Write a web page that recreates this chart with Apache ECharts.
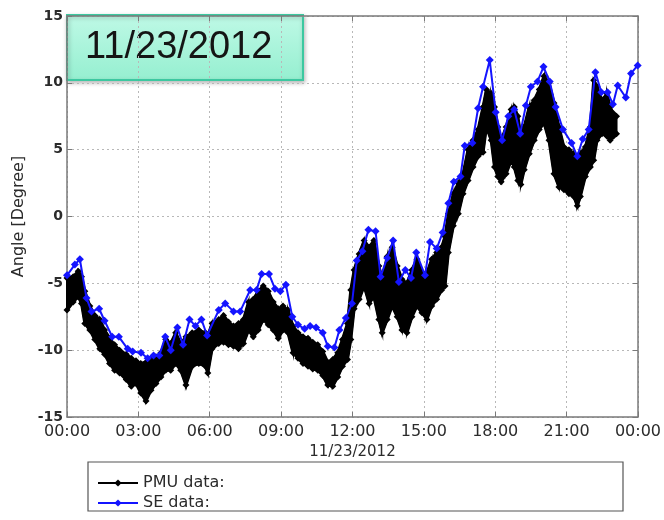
<!DOCTYPE html>
<html>
<head>
<meta charset="utf-8">
<script src="https://cdn.jsdelivr.net/npm/echarts@6/dist/echarts.min.js"></script>
<style>
  html, body { margin: 0; padding: 0; background: #ffffff; }
  #chart { width: 664px; height: 520px; }
</style>
</head>
<body>
<div id="chart"></div>
<script>
// Tick labels for the 24 h time axis (3 h steps)
const hourTicks = ['00:00', '03:00', '06:00', '09:00', '12:00', '15:00', '18:00', '21:00', '00:00'];
const dayLabel = '11/23/2012';

// State-estimator angle samples: time in hours, angle in degrees
const seHours = [0.00, 0.33, 0.54, 0.82, 1.03, 1.35, 1.58, 1.90, 2.18, 2.55, 2.76, 3.11, 3.39, 3.64, 3.88,
  4.13, 4.36, 4.64, 4.88, 5.15, 5.40, 5.65, 5.89, 6.38, 6.65, 7.00, 7.28, 7.70, 7.97, 8.18, 8.49, 8.74,
  8.97, 9.20, 9.47, 9.71, 9.99, 10.22, 10.47, 10.75, 10.96, 11.24, 11.45, 11.72, 11.98, 12.18, 12.42,
  12.67, 12.97, 13.18, 13.46, 13.71, 13.95, 14.22, 14.46, 14.68, 15.05, 15.26, 15.54, 15.79, 16.03,
  16.26, 16.54, 16.72, 17.04, 17.28, 17.49, 17.77, 18.02, 18.29, 18.55, 18.80, 19.05, 19.29, 19.50,
  19.78, 20.03, 20.29, 20.54, 20.85, 21.21, 21.45, 21.68, 21.93, 22.21, 22.46, 22.72, 22.95, 23.15,
  23.49, 23.71, 23.99];
const seAngles = [-4.4, -3.6, -3.2, -6.1, -7.1, -6.9, -7.8, -9.0, -9.0, -9.9, -10.1, -10.2, -10.6, -10.4, -10.4,
  -9.0, -10.0, -8.3, -9.6, -7.7, -8.2, -7.7, -8.9, -7.0, -6.5, -7.1, -7.1, -5.5, -5.5, -4.3, -4.3, -5.4,
  -5.6, -5.1, -7.5, -8.1, -8.4, -8.2, -8.3, -8.7, -9.7, -9.8, -8.5, -7.6, -6.5, -3.3, -2.6,
  -1.0, -1.1, -4.5, -3.1, -1.8, -4.9, -4.0, -4.6, -2.7, -4.4, -1.9, -2.4, -1.2, 1.0,
  2.6, 3.0, 5.3, 5.5, 8.1, 9.7, 11.7, 7.8, 5.7, 7.5, 8.0, 6.2, 8.3, 9.7,
  10.1, 11.2, 10.1, 8.2, 6.5, 5.5, 4.5, 5.8, 6.5, 10.8, 9.3, 9.3, 8.4, 9.8,
  8.9, 10.7, 11.3];

// PMU measurements: upper and lower extent of the dense sample band per time step
const pmuHours = [0.00, 0.26, 0.47, 0.61, 0.75, 0.96, 1.17, 1.38, 1.58, 1.79, 2.00, 2.21, 2.49, 2.70, 2.90,
  3.10, 3.32, 3.53, 3.74, 3.95, 4.15, 4.36, 4.57, 4.78, 5.00, 5.26, 5.54, 5.82, 5.92, 6.10, 6.38, 6.58,
  6.79, 7.00, 7.21, 7.42, 7.63, 7.83, 8.04, 8.25, 8.46, 8.67, 8.88, 9.08, 9.29, 9.50, 9.71, 9.92, 10.13,
  10.33, 10.54, 10.75, 10.96, 11.17, 11.38, 11.58, 11.79, 11.93, 12.07, 12.28, 12.49, 12.70, 12.90,
  13.11, 13.25, 13.46, 13.67, 13.88, 14.08, 14.29, 14.50, 14.71, 14.92, 15.13, 15.33, 15.54, 15.75,
  15.89, 16.03, 16.24, 16.45, 16.65, 16.86, 17.07, 17.28, 17.49, 17.63, 17.83, 17.97, 18.11, 18.25,
  18.46, 18.67, 18.80, 18.95, 19.08, 19.22, 19.43, 19.64, 19.85, 20.05, 20.26, 20.47, 20.68, 20.89,
  21.10, 21.30, 21.45, 21.58, 21.79, 22.00, 22.14, 22.28, 22.49, 22.70, 22.83, 22.97, 23.10];
const pmuHigh = [-4.6, -4.5, -4.1, -4.5, -5.6, -6.7, -7.4, -7.7, -8.5, -9.1, -9.6, -10.0, -10.3, -10.6, -10.8,
  -11.0, -10.9, -10.6, -10.5, -10.2, -9.2, -9.5, -8.7, -9.5, -9.0, -8.7, -8.5, -8.7, -8.9, -8.0, -7.7, -7.4,
  -7.9, -8.2, -8.0, -7.7, -6.4, -6.2, -5.6, -5.2, -5.6, -6.4, -6.9, -6.7, -7.0, -8.2, -8.7, -9.0, -9.1,
  -9.4, -9.6, -10.1, -10.9, -10.7, -10.2, -9.2, -8.0, -5.5, -4.0, -2.8, -1.8, -2.3, -1.8,
  -3.7, -4.7, -3.0, -2.3, -3.7, -4.7, -5.0, -4.0, -3.2, -4.2, -4.2, -3.2, -2.7, -2.3,
  -1.5, 0.2, 1.7, 2.5, 3.2, 5.0, 5.7, 6.5, 8.2, 9.5, 9.2, 8.2, 6.7, 5.7,
  6.7, 8.0, 8.2, 7.5, 6.0, 6.7, 8.2, 8.7, 9.5, 10.5, 10.0, 8.5, 6.7, 5.2,
  5.0, 4.7, 4.0, 4.7, 5.2, 6.7, 10.2, 9.7, 8.7, 9.2, 8.2, 7.7, 7.5];
const pmuLow = [-7.0, -6.4, -6.0, -6.5, -8.0, -8.5, -9.2, -9.9, -10.3, -11.0, -11.5, -11.7, -12.2, -12.7, -12.5,
  -13.2, -13.8, -13.0, -12.5, -12.0, -11.5, -11.5, -11.0, -11.5, -12.6, -11.2, -11.0, -11.2, -11.7, -9.9, -9.5, -9.4,
  -9.6, -9.7, -9.9, -9.5, -8.5, -9.0, -8.5, -7.7, -8.1, -8.5, -9.1, -8.5, -8.7, -10.2, -10.6, -11.0, -11.2,
  -11.4, -11.5, -11.9, -12.6, -12.7, -12.0, -11.2, -10.7, -9.2, -6.9, -6.2, -5.2, -6.5, -6.0,
  -7.7, -8.7, -7.7, -6.7, -7.5, -8.5, -8.7, -7.5, -6.7, -7.2, -7.7, -6.7, -6.2, -5.5,
  -5.2, -2.7, -0.7, 0.2, 1.7, 2.7, 3.7, 4.5, 4.8, 6.7, 5.7, 3.7, 3.0, 2.6,
  3.2, 4.2, 3.7, 2.7, 2.4, 3.5, 4.7, 5.7, 6.5, 7.0, 5.7, 3.2, 2.2, 2.0,
  1.7, 1.5, 0.8, 1.5, 3.0, 3.7, 4.2, 5.7, 6.2, 6.0, 5.7, 6.0, 6.2];

const FONT = 'DejaVu Sans';
const TEXT = '#2b2b2b';
const AXIS = '#7a7a7a';
const GRID = '#b8b8b8';

const chart = echarts.init(document.getElementById('chart'), null, { renderer: 'canvas' });

const sePoints = seHours.map((h, i) => [h, seAngles[i]]);
const pmuTop = pmuHours.map((h, i) => [h, pmuHigh[i]]);
const pmuBottom = pmuHours.map((h, i) => [h, pmuLow[i]]);
const pmuBand = pmuHours.map((h, i) => [h, pmuLow[i], pmuHigh[i]]);

// Filled band between the lower and upper PMU extents
function renderBand(params, api) {
  const i = params.dataIndex;
  if (i >= pmuHours.length - 1) return null;
  const pts = [
    api.coord([pmuHours[i], pmuLow[i]]),
    api.coord([pmuHours[i], pmuHigh[i]]),
    api.coord([pmuHours[i + 1], pmuHigh[i + 1]]),
    api.coord([pmuHours[i + 1], pmuLow[i + 1]])
  ];
  return {
    type: 'polygon',
    shape: { points: pts },
    style: { fill: '#000000', stroke: '#000000', lineWidth: 2 }
  };
}

const pmuEdge = {
  type: 'line',
  name: 'PMU data:',
  symbol: 'diamond',
  symbolSize: 7,
  showAllSymbol: true,
  lineStyle: { color: '#000000', width: 3 },
  itemStyle: { color: '#000000' },
  z: 3,
  animation: false
};

const option = {
  animation: false,
  backgroundColor: '#ffffff',
  grid: { left: 67, right: 21, top: 16, bottom: 103, containLabel: false },
  xAxis: [{
    type: 'value',
    min: 0, max: 24, interval: 3,
    name: dayLabel,
    nameLocation: 'middle',
    nameGap: 28,
    nameTextStyle: { fontFamily: FONT, fontSize: 15, color: TEXT },
    axisLine: { show: true, onZero: false, lineStyle: { color: AXIS, width: 1.5 } },
    axisTick: { show: true, inside: true, length: 5, lineStyle: { color: AXIS } },
    axisLabel: {
      fontFamily: FONT, fontSize: 16, color: TEXT, margin: 7,
      formatter: v => hourTicks[Math.round(v / 3)]
    },
    splitLine: { show: true, lineStyle: { color: GRID, type: [2, 3], width: 1 } }
  }, {
    type: 'value', position: 'top',
    min: 0, max: 24, interval: 3,
    axisLine: { show: true, onZero: false, lineStyle: { color: AXIS, width: 1.5 } },
    axisTick: { show: true, inside: true, length: 5, lineStyle: { color: AXIS } },
    axisLabel: { show: false },
    splitLine: { show: false }
  }],
  yAxis: [{
    type: 'value',
    min: -15, max: 15, interval: 5,
    name: 'Angle [Degree]',
    nameLocation: 'middle',
    nameGap: 30,
    nameTextStyle: { fontFamily: FONT, fontSize: 16, color: TEXT },
    axisLine: { show: true, onZero: false, lineStyle: { color: AXIS, width: 1.5 } },
    axisTick: { show: true, inside: true, length: 5, lineStyle: { color: AXIS } },
    axisLabel: { fontFamily: FONT, fontSize: 14, fontWeight: 'bold', color: TEXT, margin: 4 },
    splitLine: { show: true, lineStyle: { color: GRID, type: [2, 3], width: 1 } }
  }, {
    type: 'value', position: 'right',
    min: -15, max: 15, interval: 5,
    axisLine: { show: true, onZero: false, lineStyle: { color: AXIS, width: 1.5 } },
    axisTick: { show: true, inside: true, length: 5, lineStyle: { color: AXIS } },
    axisLabel: { show: false },
    splitLine: { show: false }
  }],
  legend: {
    data: ['PMU data:', 'SE data:'],
    orient: 'vertical',
    left: 92, top: 468,
    itemWidth: 40, itemHeight: 9, itemGap: 0,
    textStyle: { fontFamily: FONT, fontSize: 16, color: TEXT, lineHeight: 20 },
    selectedMode: false
  },
  graphic: [
    {
      type: 'rect', z: 0, silent: true,
      shape: { x: 88, y: 462, width: 535, height: 49 },
      style: { fill: '#ffffff', stroke: '#555555', lineWidth: 1.2 }
    },
    {
      type: 'group', z: 100, silent: true,
      children: [
        {
          type: 'rect',
          shape: { x: 67, y: 15, width: 236, height: 65 },
          style: {
            fill: new echarts.graphic.LinearGradient(0, 0, 0, 1, [
              { offset: 0, color: '#bff9e6' },
              { offset: 1, color: '#95efd0' }
            ]),
            stroke: '#3cc8a0', lineWidth: 2,
            shadowBlur: 4, shadowOffsetX: 1, shadowOffsetY: 2, shadowColor: 'rgba(0,0,0,0.25)'
          }
        },
        {
          type: 'text',
          x: 85, y: 48,
          style: {
            text: dayLabel,
            fontFamily: 'Liberation Sans, Arial, sans-serif',
            fontSize: 38,
            fill: '#151515',
            verticalAlign: 'middle',
            align: 'left'
          }
        }
      ]
    }
  ],
  series: [
    {
      type: 'custom',
      name: 'PMU band',
      renderItem: renderBand,
      data: pmuBand,
      encode: { x: 0, y: [1, 2] },
      z: 2,
      animation: false
    },
    Object.assign({}, pmuEdge, { data: pmuTop }),
    Object.assign({}, pmuEdge, { data: pmuBottom }),
    {
      type: 'line',
      name: 'SE data:',
      data: sePoints,
      symbol: 'diamond',
      symbolSize: 8,
      showAllSymbol: true,
      lineStyle: { color: '#1414ff', width: 2 },
      itemStyle: { color: '#1414ff' },
      z: 5,
      animation: false
    }
  ]
};

chart.setOption(option);
</script>
</body>
</html>
